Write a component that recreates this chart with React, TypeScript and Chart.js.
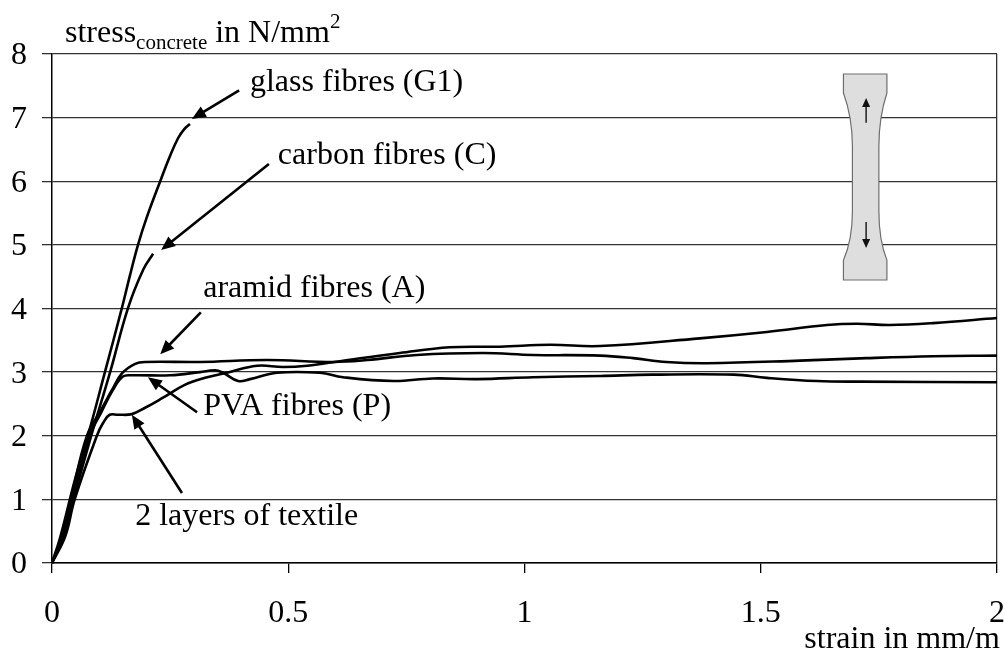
import React, { useEffect, useRef } from "react";
import { Chart, registerables } from "chart.js";

Chart.register(...registerables);

const FONT = '"Liberation Serif"';

const glassX = [0, 0.018, 0.05, 0.076, 0.112, 0.148, 0.165, 0.182, 0.2, 0.229, 0.25, 0.267, 0.28, 0.292];
const glassY = [0, 0.42, 1.35, 2, 3, 4.01, 4.52, 5, 5.42, 6, 6.4, 6.68, 6.82, 6.9];

const carbonX = [0, 0.022, 0.045, 0.083, 0.123, 0.161, 0.193, 0.214];
const carbonY = [0, 0.4, 1, 2, 3, 4.01, 4.61, 4.86];

const aramidX = [0, 0.022, 0.04, 0.074, 0.105, 0.127, 0.148, 0.176, 0.197, 0.313, 0.455, 0.595, 0.667, 0.772, 0.912, 1.018, 1.16, 1.23, 1.3, 1.386, 1.583, 1.724, 1.865, 2];
const aramidY = [0, 0.45, 1, 2, 2.42, 2.72, 2.98, 3.13, 3.16, 3.16, 3.19, 3.16, 3.19, 3.27, 3.3, 3.27, 3.26, 3.22, 3.16, 3.14, 3.18, 3.22, 3.25, 3.26];

const pvaX = [0, 0.024, 0.042, 0.08, 0.105, 0.129, 0.15, 0.17, 0.25, 0.313, 0.345, 0.362, 0.394, 0.419, 0.476, 0.567, 0.616, 0.722, 0.806, 0.9, 1.018, 1.16, 1.27, 1.443, 1.513, 1.619, 1.71, 2];
const pvaY = [0, 0.42, 1, 2, 2.38, 2.72, 2.93, 2.95, 2.95, 3, 3.03, 2.99, 2.86, 2.89, 2.99, 2.99, 2.92, 2.86, 2.9, 2.89, 2.92, 2.94, 2.96, 2.96, 2.91, 2.86, 2.85, 2.84];

const textileX = [0, 0.028, 0.048, 0.095, 0.108, 0.122, 0.14, 0.169, 0.197, 0.233, 0.281, 0.324, 0.37, 0.434, 0.489, 0.54, 0.616, 0.736, 0.842, 0.948, 1.054, 1.16, 1.371, 1.513, 1.64, 1.704, 1.773, 1.865, 2];
const textileY = [0, 0.42, 1, 2, 2.2, 2.33, 2.33, 2.34, 2.44, 2.59, 2.8, 2.91, 2.99, 3.1, 3.08, 3.1, 3.18, 3.3, 3.39, 3.4, 3.43, 3.41, 3.53, 3.63, 3.74, 3.76, 3.74, 3.77, 3.85];

const seriesX = [glassX, carbonX, aramidX, pvaX, textileX];
const seriesY = [glassY, carbonY, aramidY, pvaY, textileY];
const seriesNames = ["glass fibres (G1)", "carbon fibres (C)", "aramid fibres (A)", "PVA fibres (P)", "2 layers of textile"];

const labelX = [0.419, 0.478, 0.32, 0.32, 0.176];
const labelY = [7.42, 6.27, 4.18, 2.33, 0.6];

const arrowFromX = [0.396, 0.459, 0.315, 0.307, 0.275];
const arrowFromY = [7.43, 6.27, 3.94, 2.37, 1.1];
const arrowToX = [0.296, 0.231, 0.229, 0.203, 0.169];
const arrowToY = [6.98, 4.92, 3.28, 2.92, 2.33];

const specimenX = [1.675, 1.767, 1.767, 1.75, 1.75, 1.767, 1.767, 1.675, 1.675, 1.694, 1.694, 1.675];
const specimenY = [7.686, 7.686, 7.387, 6.85, 5.234, 4.76, 4.448, 4.448, 4.76, 5.234, 6.85, 7.387];
const specimenArrowX = [1.723, 1.723];
const specimenArrowFrom = [6.92, 5.36];
const specimenArrowTo = [7.31, 4.95];

const xTicks = [0, 0.5, 1, 1.5, 2];

function arrow(ctx: CanvasRenderingContext2D, x0: number, y0: number, x1: number, y1: number, w: number, len: number, half: number) {
  const a = Math.atan2(y1 - y0, x1 - x0);
  ctx.lineWidth = w;
  ctx.beginPath();
  ctx.moveTo(x0, y0);
  ctx.lineTo(x1 - Math.cos(a) * len * 0.8, y1 - Math.sin(a) * len * 0.8);
  ctx.stroke();
  ctx.beginPath();
  ctx.moveTo(x1, y1);
  ctx.lineTo(x1 - Math.cos(a) * len - Math.sin(a) * half, y1 - Math.sin(a) * len + Math.cos(a) * half);
  ctx.lineTo(x1 - Math.cos(a) * len + Math.sin(a) * half, y1 - Math.sin(a) * len - Math.cos(a) * half);
  ctx.closePath();
  ctx.fill();
}

const overlay = {
  id: "overlay",
  afterDatasetsDraw(chart: any) {
    const { ctx, scales } = chart;
    const X = (v: number) => scales.x.getPixelForValue(v);
    const Y = (v: number) => scales.y.getPixelForValue(v);
    ctx.save();
    // specimen
    ctx.beginPath();
    ctx.moveTo(X(specimenX[0]), Y(specimenY[0]));
    ctx.lineTo(X(specimenX[1]), Y(specimenY[1]));
    ctx.lineTo(X(specimenX[2]), Y(specimenY[2]));
    ctx.quadraticCurveTo(X(specimenX[3]), Y(7.0), X(specimenX[3]), Y(specimenY[3] - 0.3));
    ctx.lineTo(X(specimenX[4]), Y(specimenY[4] + 0.3));
    ctx.quadraticCurveTo(X(specimenX[4]), Y(5.08), X(specimenX[5]), Y(specimenY[5]));
    ctx.lineTo(X(specimenX[6]), Y(specimenY[6]));
    ctx.lineTo(X(specimenX[7]), Y(specimenY[7]));
    ctx.lineTo(X(specimenX[8]), Y(specimenY[8]));
    ctx.quadraticCurveTo(X(specimenX[9]), Y(5.08), X(specimenX[9]), Y(specimenY[9] + 0.3));
    ctx.lineTo(X(specimenX[10]), Y(specimenY[10] - 0.3));
    ctx.quadraticCurveTo(X(specimenX[10]), Y(7.0), X(specimenX[11]), Y(specimenY[11]));
    ctx.closePath();
    ctx.fillStyle = "#dedede";
    ctx.fill();
    ctx.strokeStyle = "#6e6e6e";
    ctx.lineWidth = 1.2;
    ctx.stroke();

    ctx.fillStyle = "#111";
    ctx.strokeStyle = "#111";
    specimenArrowFrom.forEach((from, i) => {
      arrow(ctx, X(specimenArrowX[i]), Y(from), X(specimenArrowX[i]), Y(specimenArrowTo[i]), 1.4, 9, 4);
    });

    // callout arrows
    ctx.fillStyle = "#000";
    ctx.strokeStyle = "#000";
    arrowFromX.forEach((x0, i) => {
      arrow(ctx, X(x0), Y(arrowFromY[i]), X(arrowToX[i]), Y(arrowToY[i]), 2.6, 14, 6);
    });

    // callout labels
    ctx.textBaseline = "alphabetic";
    ctx.textAlign = "left";
    ctx.font = `32px ${FONT}`;
    seriesNames.forEach((name, i) => ctx.fillText(name, X(labelX[i]), Y(labelY[i])));

    // y title with sub/superscript
    let tx = X(0.0275);
    const ty = Y(8.19);
    const run = (s: string, size: number, dy: number) => {
      ctx.font = `${size}px ${FONT}`;
      ctx.fillText(s, tx, ty + dy);
      tx += ctx.measureText(s).width;
    };
    run("stress", 32, 0);
    run("concrete", 21, 7);
    run(" in N/mm", 32, 0);
    run("2", 21, -14);

    // x title
    ctx.font = `32px ${FONT}`;
    ctx.textAlign = "right";
    ctx.fillText("strain in mm/m", X(2.006), Y(-1.336));
    ctx.restore();
  },
};

export default function App() {
  const ref = useRef<HTMLCanvasElement>(null);
  useEffect(() => {
    const chart = new Chart(ref.current!, {
      type: "scatter",
      data: {
        datasets: seriesNames.map((name, i) => ({
          label: name,
          data: seriesX[i].map((x, j) => ({ x, y: seriesY[i][j] })),
          showLine: true,
          borderColor: "#000",
          borderWidth: 2.6,
          pointRadius: 0,
          tension: 0.4,
          clip: false,
        })),
      },
      options: {
        responsive: false,
        animation: false,
        layout: { padding: { top: 54, right: 8, left: 0, bottom: 0 } },
        plugins: { legend: { display: false }, tooltip: { enabled: false } },
        scales: {
          x: {
            type: "linear",
            min: 0,
            max: 2,
            afterFit: (s: any) => { s.height = 89; s.paddingLeft = 0; s.paddingRight = 0; },
            afterBuildTicks: (s: any) => { s.ticks = xTicks.map((value) => ({ value })); },
            grid: {
              color: (c: any) => (c.tick && c.tick.value === 2 ? "#333" : "transparent"),
              tickColor: "#000",
              tickLength: 10,
              lineWidth: 1.3,
            },
            border: { color: "#000", width: 1.5 },
            ticks: { color: "#000", font: { family: FONT, size: 32 }, padding: 21, maxRotation: 0, autoSkip: false, callback: (v: any) => String(v) },
          },
          y: {
            min: 0,
            max: 8,
            afterFit: (s: any) => { s.width = 52; },
            grid: { color: "#333", lineWidth: 1.3, tickLength: 10 },
            border: { color: "#000", width: 1.5 },
            ticks: { color: "#000", stepSize: 1, font: { family: FONT, size: 32 }, padding: 15, labelOffset: 2 },
          },
        },
      },
      plugins: [overlay],
    } as any);
    return () => chart.destroy();
  }, []);
  return (
    <div style={{ position: "absolute", left: 0, top: 0, width: 1005, height: 652, background: "#fff" }}>
      <canvas ref={ref} width={1005} height={652} style={{ display: "block" }} />
    </div>
  );
}
